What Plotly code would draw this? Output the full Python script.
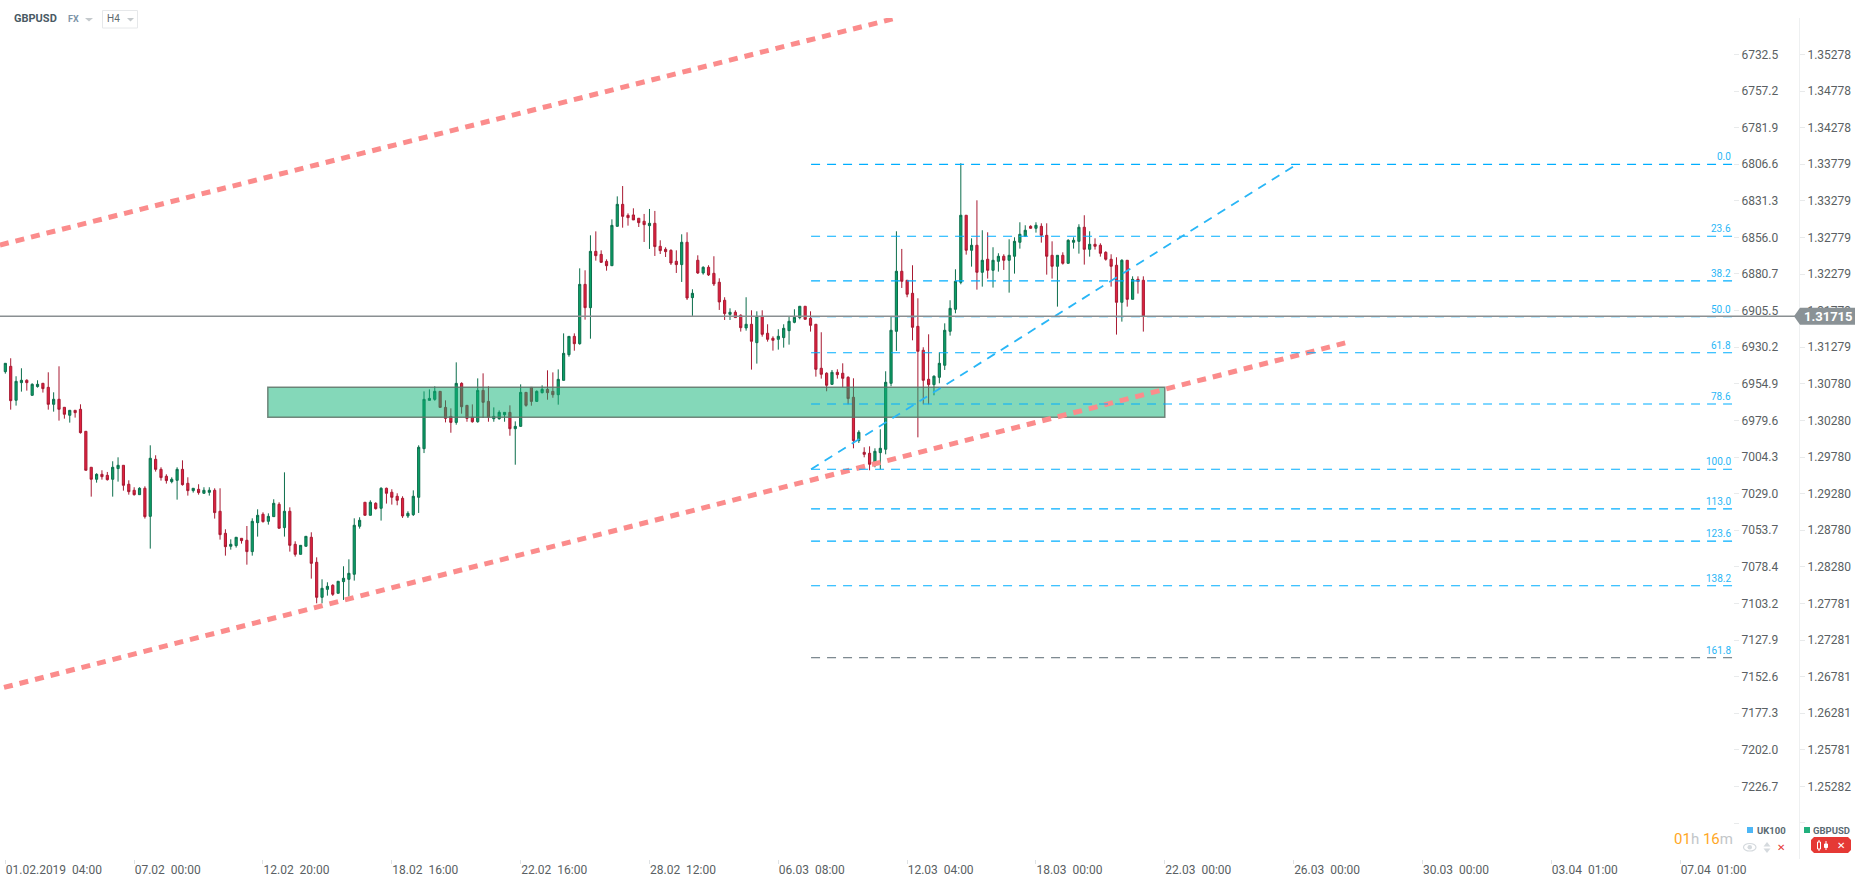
import plotly.graph_objects as go

W, H = 1866, 885

# ---------- GBPUSD H4 candles ----------
candle_dir = ("GRGGRGGRRG" "RRGRRRRGRR" "GGRRRGRGRR" "RGGRRGRGGR" "RRGGRRGGRG"
              "GRGRRGGRRG" "GRGGGGGRGR" "GRRRRGGGGG" "GRRRGRRRGR" "RGGGRGGRRG"
              "GRRGGGRGRG" "RRRGGRRRRR" "GRRRRRGRGR" "GRRRRGRRGR" "GRRRGGGGGR"
              "RRRRGRRRRG" "RRGGGGGRRR" "RRRGGGGGGR" "GRGRGGRGGG" "GRGRRRGRGG"
              "GRGRRRRRGR" "GRR")

highs = [
1.31060,1.31129,1.30883,1.30992,1.30842,1.30787,1.30828,1.30787,1.30937,1.30664,
1.31019,1.30459,1.30418,1.30418,1.30500,1.30131,1.29640,1.29558,1.29599,1.29576,
1.29722,1.29776,1.29667,1.29462,1.29367,1.29367,1.29380,1.29940,1.29804,1.29640,
1.29544,1.29503,1.29640,1.29735,1.29503,1.29353,1.29408,1.29367,1.29367,1.29353,
1.29353,1.28793,1.28656,1.28684,1.28670,1.28838,1.28943,1.29066,1.29025,1.29011,
1.29203,1.29162,1.29571,1.29093,1.28629,1.28574,1.28697,1.28752,1.28410,1.28110,
1.28069,1.28042,1.28083,1.28288,1.28383,1.28943,1.28957,1.29162,1.29189,1.29162,
1.29367,1.29362,1.29340,1.29285,1.29244,1.29039,1.29325,1.29940,1.30677,1.30704,
1.30745,1.30677,1.30554,1.30445,1.31073,1.30800,1.30486,1.30499,1.30854,1.30923,
1.30745,1.30458,1.30417,1.30390,1.30486,1.30267,1.30772,1.30663,1.30731,1.30690,
1.30759,1.30964,1.30936,1.30977,1.31469,1.31428,1.31469,1.32357,1.32330,1.32808,
1.32862,1.32603,1.32480,1.33026,1.33340,1.33481,1.33108,1.33177,1.33041,1.33100,
1.33168,1.33141,1.32740,1.32644,1.32617,1.32603,1.32822,1.32849,1.32071,1.32535,
1.32385,1.32399,1.32522,1.32221,1.31962,1.31811,1.31784,1.31729,1.31962,1.31784,
1.31770,1.31784,1.31593,1.31429,1.31525,1.31593,1.31702,1.31798,1.31839,1.31839,
1.31770,1.31593,1.31484,1.30937,1.30969,1.30978,1.31060,1.30883,1.30855,1.30145,
1.29913,1.29926,1.29899,1.30159,1.30951,1.31698,1.32863,1.32622,1.32194,1.32399,
1.31948,1.31279,1.31456,1.30896,1.31210,1.31606,1.31921,1.32344,1.33792,1.33082,
1.32767,1.33286,1.32877,1.32849,1.32645,1.32563,1.32549,1.32754,1.32781,1.32986,
1.32945,1.32945,1.32986,1.32972,1.32972,1.32726,1.32535,1.32576,1.32754,1.32781,
1.32959,1.33082,1.32863,1.32767,1.32699,1.32590,1.32549,1.32508,1.32481,1.32467,
1.32248,1.32248,1.32248]

body_tops = [
1.31060,1.31019,1.30814,1.30828,1.30828,1.30773,1.30773,1.30787,1.30732,1.30569,
1.30569,1.30459,1.30418,1.30418,1.30432,1.30131,1.29640,1.29544,1.29544,1.29530,
1.29640,1.29667,1.29667,1.29408,1.29326,1.29353,1.29353,1.29763,1.29749,1.29612,
1.29517,1.29476,1.29612,1.29612,1.29421,1.29353,1.29339,1.29326,1.29326,1.29326,
1.29039,1.28738,1.28588,1.28684,1.28670,1.28643,1.28902,1.28984,1.28998,1.28970,
1.29148,1.29134,1.29039,1.29039,1.28588,1.28574,1.28697,1.28684,1.28342,1.27987,
1.28014,1.28028,1.28083,1.28124,1.28192,1.28848,1.28916,1.29162,1.29162,1.29148,
1.29353,1.29353,1.29299,1.29244,1.29216,1.29011,1.29244,1.29913,1.30568,1.30581,
1.30677,1.30677,1.30458,1.30335,1.30786,1.30786,1.30486,1.30322,1.30690,1.30690,
1.30540,1.30335,1.30390,1.30390,1.30390,1.30199,1.30663,1.30663,1.30731,1.30677,
1.30704,1.30704,1.30677,1.30841,1.31196,1.31428,1.31428,1.32138,1.32138,1.32589,
1.32589,1.32548,1.32452,1.32944,1.33231,1.33231,1.33081,1.33086,1.33041,1.33000,
1.32972,1.32972,1.32658,1.32617,1.32603,1.32453,1.32713,1.32713,1.32016,1.32467,
1.32371,1.32371,1.32289,1.32167,1.31921,1.31757,1.31757,1.31716,1.31593,1.31593,
1.31702,1.31702,1.31470,1.31402,1.31429,1.31538,1.31634,1.31688,1.31839,1.31839,
1.31675,1.31593,1.30992,1.30924,1.30937,1.30937,1.30924,1.30869,1.30596,1.30118,
1.29844,1.29831,1.29858,1.29899,1.30801,1.31511,1.32317,1.32317,1.32194,1.32016,
1.31565,1.31238,1.30842,1.30883,1.31060,1.31511,1.31811,1.32180,1.33082,1.33082,
1.32672,1.32672,1.32467,1.32481,1.32467,1.32522,1.32522,1.32535,1.32726,1.32822,
1.32877,1.32931,1.32945,1.32931,1.32808,1.32535,1.32535,1.32535,1.32740,1.32740,
1.32918,1.32918,1.32685,1.32685,1.32672,1.32576,1.32481,1.32399,1.32467,1.32467,
1.32207,1.32207,1.32194]

body_bottoms = [
1.30946,1.30550,1.30555,1.30796,1.30796,1.30623,1.30742,1.30714,1.30500,1.30500,
1.30432,1.30364,1.30350,1.30386,1.30113,1.29599,1.29476,1.29476,1.29512,1.29471,
1.29476,1.29622,1.29394,1.29307,1.29266,1.29266,1.28966,1.28970,1.29612,1.29499,
1.29458,1.29444,1.29462,1.29403,1.29321,1.29321,1.29294,1.29285,1.29298,1.29021,
1.28720,1.28556,1.28561,1.28570,1.28638,1.28488,1.28488,1.28884,1.28898,1.28902,
1.28966,1.28807,1.28816,1.28574,1.28451,1.28451,1.28561,1.28328,1.27864,1.27864,
1.27973,1.27905,1.27919,1.28078,1.28110,1.28179,1.28834,1.28984,1.28984,1.29075,
1.29080,1.29285,1.29230,1.29189,1.28975,1.28975,1.28993,1.29230,1.29894,1.30554,
1.30568,1.30458,1.30308,1.30253,1.30253,1.30467,1.30308,1.30262,1.30262,1.30527,
1.30322,1.30303,1.30303,1.30358,1.30167,1.30167,1.30199,1.30486,1.30540,1.30540,
1.30659,1.30659,1.30631,1.30631,1.30827,1.31178,1.31328,1.31328,1.31820,1.31820,
1.32530,1.32439,1.32393,1.32393,1.32931,1.33067,1.33049,1.33018,1.32981,1.32954,
1.32940,1.32654,1.32599,1.32585,1.32430,1.32408,1.32408,1.31952,1.31957,1.32294,
1.32294,1.32267,1.32144,1.31898,1.31739,1.31729,1.31684,1.31547,1.31543,1.31361,
1.31342,1.31456,1.31388,1.31374,1.31388,1.31411,1.31506,1.31620,1.31684,1.31661,
1.31579,1.30978,1.30910,1.30760,1.30773,1.30905,1.30855,1.30578,1.30004,1.30004,
1.29817,1.29681,1.29703,1.29840,1.29886,1.30787,1.31497,1.32180,1.32003,1.31552,
1.31224,1.30828,1.30769,1.30769,1.30869,1.31033,1.31497,1.31798,1.32166,1.32604,
1.32604,1.32303,1.32303,1.32330,1.32330,1.32453,1.32467,1.32467,1.32522,1.32713,
1.32795,1.32904,1.32904,1.32808,1.32522,1.32385,1.32385,1.32426,1.32426,1.32713,
1.32726,1.32617,1.32617,1.32658,1.32563,1.32481,1.32385,1.31893,1.31893,1.31934,
1.31934,1.32180,1.31702]

lows = [
1.30919,1.30427,1.30482,1.30673,1.30687,1.30619,1.30728,1.30660,1.30427,1.30400,
1.30277,1.30304,1.30250,1.30318,1.30100,1.29599,1.29239,1.29430,1.29471,1.29458,
1.29239,1.29444,1.29321,1.29266,1.29253,1.29266,1.28939,1.28529,1.29581,1.29458,
1.29417,1.29421,1.29198,1.29389,1.29253,1.29294,1.29266,1.29280,1.29253,1.28939,
1.28652,1.28433,1.28515,1.28543,1.28597,1.28310,1.28433,1.28693,1.28884,1.28857,
1.28966,1.28807,1.28693,1.28488,1.28420,1.28451,1.28561,1.28119,1.27782,1.27782,
1.27887,1.27883,1.27919,1.27828,1.27873,1.28092,1.28802,1.28984,1.28984,1.29062,
1.28912,1.29144,1.29130,1.29121,1.28948,1.28948,1.28975,1.29016,1.29834,1.30554,
1.30549,1.30458,1.30253,1.30112,1.30222,1.30372,1.30262,1.30249,1.30249,1.30313,
1.30262,1.30262,1.30290,1.30262,1.30071,1.29675,1.30194,1.30467,1.30481,1.30540,
1.30649,1.30563,1.30590,1.30495,1.30827,1.31150,1.31232,1.31314,1.31656,1.31396,
1.32462,1.32434,1.32325,1.32393,1.32926,1.32912,1.32940,1.33018,1.32922,1.32717,
1.32622,1.32526,1.32553,1.32512,1.32403,1.32294,1.32171,1.31925,1.31707,1.32280,
1.32271,1.32253,1.32116,1.31789,1.31652,1.31652,1.31684,1.31493,1.31506,1.30974,
1.31056,1.31424,1.31356,1.31233,1.31247,1.31274,1.31315,1.31607,1.31661,1.31661,
1.31493,1.30878,1.30851,1.30678,1.30764,1.30851,1.30732,1.30500,1.29899,1.29972,
1.29776,1.29599,1.29640,1.29612,1.29817,1.30746,1.31229,1.32089,1.31962,1.31374,
1.30049,1.30500,1.30500,1.30623,1.30787,1.30969,1.31438,1.31743,1.32139,1.32544,
1.32380,1.32066,1.32107,1.32217,1.32094,1.32312,1.32335,1.32025,1.32285,1.32626,
1.32795,1.32900,1.32845,1.32708,1.32271,1.32217,1.31834,1.32408,1.32421,1.32626,
1.32558,1.32408,1.32517,1.32613,1.32517,1.32462,1.32107,1.31452,1.31629,1.31834,
1.31934,1.32012,1.31493]

# ---------- axis labels ----------
gbp_ticks = ["1.35278","1.34778","1.34278","1.33779","1.33279","1.32779","1.32279",
             "1.31779","1.31279","1.30780","1.30280","1.29780","1.29280","1.28780",
             "1.28280","1.27781","1.27281","1.26781","1.26281","1.25781","1.25282"]
uk100_ticks = ["6732.5","6757.2","6781.9","6806.6","6831.3","6856.0","6880.7",
               "6905.5","6930.2","6954.9","6979.6","7004.3","7029.0","7053.7",
               "7078.4","7103.2","7127.9","7152.6","7177.3","7202.0","7226.7"]
date_labels = ["01.02.2019\u00a0\u00a004:00","07.02\u00a0\u00a000:00","12.02\u00a0\u00a020:00",
               "18.02\u00a0\u00a016:00","22.02\u00a0\u00a016:00","28.02\u00a0\u00a012:00",
               "06.03\u00a0\u00a008:00","12.03\u00a0\u00a004:00","18.03\u00a0\u00a000:00",
               "22.03\u00a0\u00a000:00","26.03\u00a0\u00a000:00","30.03\u00a0\u00a000:00",
               "03.04\u00a0\u00a001:00","07.04\u00a0\u00a001:00"]
date_tick_step = 24

# ---------- drawing tools, in price / candle index ----------
fib_levels = [0.0, 23.6, 38.2, 50.0, 61.8, 78.6, 100.0, 113.0, 123.6, 138.2, 161.8]
fib_price_0 = 1.33778
fib_price_100 = 1.29613
fib_start_bar = 150.1
fib_end_bar = 321.7
fib_diag_end_bar = 240.6
zone_bars = (48.9, 216.0)
zone_prices = (1.30323, 1.30733)
channel_top = ((-1.0, 1.32676), (165.3, 1.35763))
channel_bottom = ((-0.25, 1.26633), (249.6, 1.31338))
last_price_label = "1.31715"
y_range = (1.24290, 1.35776)
uk100_range = (7275.7, 6707.9)
x_range = (-0.993, 321.85)

# ---------- styles ----------
RED_FILL, RED_EDGE = "#e0213f", "#a81a32"
GRN_FILL, GRN_EDGE = "#0aa067", "#0c6e4c"
FIB = "#00aeff"
TXT = "#5a5f63"
px = lambda x: x / W
py = lambda y: 1 - y / H


def poly(points, fill, line=None, lw=0):
    path = "M" + " L".join(f"{px(a):.5f},{py(b):.5f}" for a, b in points) + " Z"
    return dict(type="path", xref="paper", yref="paper", path=path, fillcolor=fill,
                line=dict(color=line or fill, width=lw), layer="above")


def label(x, y, text, size=12, color=TXT, anchor="left", bold=False, family="Roboto"):
    return dict(xref="paper", yref="paper", x=px(x), y=py(y), text=f"<b>{text}</b>" if bold else text,
                showarrow=False, xanchor=anchor, yanchor="middle",
                font=dict(family=family, size=size, color=color), borderpad=0, borderwidth=0)


opens = [b if d == "G" else t for d, t, b in zip(candle_dir, body_tops, body_bottoms)]
closes = [t if d == "G" else b for d, t, b in zip(candle_dir, body_tops, body_bottoms)]
bars = list(range(len(highs)))

fig = go.Figure()
fig.add_trace(go.Candlestick(
    x=bars, open=opens, high=highs, low=lows, close=closes, name="GBPUSD",
    whiskerwidth=0, showlegend=False, hoverinfo="skip",
    increasing=dict(fillcolor=GRN_FILL, line=dict(color=GRN_EDGE, width=1)),
    decreasing=dict(fillcolor=RED_FILL, line=dict(color=RED_EDGE, width=1)),
))
fig.add_trace(go.Scatter(x=[None], y=[None], yaxis="y2", name="UK100", showlegend=False, hoverinfo="skip"))

shapes = []
# supply / demand zone drawn over the candles
shapes.append(dict(type="rect", xref="x", yref="y", x0=zone_bars[0], x1=zone_bars[1],
                   y0=zone_prices[0], y1=zone_prices[1], layer="above",
                   fillcolor="rgba(9,178,115,0.5)", line=dict(color="rgba(95,115,105,0.85)", width=1.5)))
# channel
for (a, b) in (channel_top, channel_bottom):
    shapes.append(dict(type="line", xref="x", yref="y", x0=a[0], y0=a[1], x1=b[0], y1=b[1], layer="above",
                       line=dict(color="#fb8c8c", width=5, dash="9px,7px")))
# fibonacci levels
annotations = []
for lv in fib_levels:
    p = fib_price_0 + (fib_price_100 - fib_price_0) * lv / 100
    col = "#5a6a72" if lv == 161.8 else FIB
    shapes.append(dict(type="line", xref="x", yref="y", x0=fib_start_bar, x1=fib_end_bar, y0=p, y1=p,
                       layer="above", line=dict(color=col, width=1 if lv == 161.8 else 1.2, dash="9px,7px")))
    annotations.append(dict(xref="x", yref="y", x=fib_end_bar, y=p, text=f"{lv:.1f}", showarrow=False,
                            xanchor="right", yanchor="bottom", yshift=1, borderpad=0,
                            font=dict(family="Roboto", size=10, color="#29b6f6")))
# fibonacci diagonal
shapes.append(dict(type="line", xref="x", yref="y", x0=fib_start_bar, y0=fib_price_100,
                   x1=fib_diag_end_bar, y1=fib_price_0, layer="above",
                   line=dict(color="#29b6f6", width=1.8, dash="9px,7px")))
# last price line
shapes.append(dict(type="line", xref="paper", yref="y", x0=0, x1=px(1795), y0=closes[-1], y1=closes[-1],
                   layer="above", line=dict(color="#8a8f92", width=1.5)))

# last price flag
flag_y = 316.2
shapes.append(poly([(1794, flag_y), (1800, flag_y - 8.5), (1855, flag_y - 8.5), (1855, flag_y + 8.5), (1800, flag_y + 8.5)],
                   "#8a9296"))
annotations.append(label(1828, flag_y, last_price_label, size=13, color="#ffffff", anchor="center", bold=True))

# header
annotations += [
    label(14, 19, "GBPUSD", size=11, color="#4a5a64", bold=True),
    label(68, 19, "FX", size=9, color="#7d95a8", bold=True),
    label(107, 19, "H4", size=10, color="#5f6a70"),
]
shapes += [
    poly([(85, 18), (93, 18), (89, 21.5)], "#c4c9cc"),
    poly([(127, 18), (134, 18), (130.5, 21.5)], "#c4c9cc"),
    dict(type="rect", xref="paper", yref="paper", x0=px(102.5), x1=px(137.5), y0=py(28), y1=py(10.5),
         line=dict(color="#e6e8ea", width=1), fillcolor="rgba(0,0,0,0)", layer="above"),
]

# bottom-right legend
shapes += [
    dict(type="rect", xref="paper", yref="paper", x0=px(1747), x1=px(1753), y0=py(833), y1=py(827),
         fillcolor="#4db6f5", line=dict(width=0)),
    dict(type="rect", xref="paper", yref="paper", x0=px(1804), x1=px(1810), y0=py(833), y1=py(827),
         fillcolor="#22b07d", line=dict(width=0)),
    poly([(1814, 837), (1848, 837), (1851, 840), (1851, 850), (1848, 853), (1814, 853), (1811, 850), (1811, 840)],
         "#e53935"),
    # eye
    dict(type="circle", xref="paper", yref="paper", x0=px(1743.5), x1=px(1756), y0=py(851), y1=py(843.5),
         fillcolor="rgba(0,0,0,0)", line=dict(color="#d5dade", width=1.2)),
    dict(type="circle", xref="paper", yref="paper", x0=px(1747.5), x1=px(1752), y0=py(849.5), y1=py(845),
         fillcolor="#d5dade", line=dict(width=0)),
    # up / down arrows
    poly([(1763.5, 846.5), (1770.5, 846.5), (1767, 842)], "#d5dade"),
    poly([(1763.5, 848.5), (1770.5, 848.5), (1767, 853)], "#d5dade"),
    # candle icon in the red button
    dict(type="line", xref="paper", yref="paper", x0=px(1819), x1=px(1819), y0=py(840), y1=py(851),
         line=dict(color="#ffffff", width=1)),
    dict(type="rect", xref="paper", yref="paper", x0=px(1817.5), x1=px(1820.5), y0=py(849), y1=py(842),
         fillcolor="#e53935", line=dict(color="#ffffff", width=1)),
    dict(type="line", xref="paper", yref="paper", x0=px(1826), x1=px(1826), y0=py(841), y1=py(850),
         line=dict(color="#ffffff", width=1)),
    dict(type="rect", xref="paper", yref="paper", x0=px(1824.5), x1=px(1827.5), y0=py(847.5), y1=py(844),
         fillcolor="#ffffff", line=dict(color="#ffffff", width=1)),
]
annotations += [
    label(1757, 830, "UK100", size=9.5, color="#5a6a72", bold=True),
    label(1813, 830, "GBPUSD", size=9.5, color="#5a6a72", bold=True),
    label(1780.5, 847, "\u2715", size=10, color="#e53935", anchor="center", family="DejaVu Sans"),
    label(1841, 845, "\u2715", size=10, color="#ffffff", anchor="center", family="DejaVu Sans"),
    label(1733, 839,
          '<span style="color:#ffa726">01</span><span style="color:#c2c6c9">h</span> '
          '<span style="color:#ffa726">16</span><span style="color:#c2c6c9">m</span>',
          size=15, anchor="right"),
]

# tick positions: both price scales share the same rows, plus the unlabelled row under the legend
gbp_vals = [float(t) for t in gbp_ticks] + [1.24782]
uk_vals = [float(t) for t in uk100_ticks] + [7251.4]

fig.update_layout(
    width=W, height=H, autosize=False, paper_bgcolor="#ffffff", plot_bgcolor="#ffffff",
    margin=dict(l=0, r=0, t=0, b=0, pad=0), showlegend=False, boxgap=0.42,
    font=dict(family="Roboto", size=12, color=TXT),
    shapes=shapes, annotations=annotations,
    xaxis=dict(domain=[0, px(1733)], range=list(x_range), rangeslider=dict(visible=False),
               showgrid=False, zeroline=False, showline=False, ticks="outside", ticklen=4,
               tickcolor="#dfe2e4", tickmode="array", ticklabelposition="outside right",
               tickvals=[i * date_tick_step for i in range(len(date_labels))], ticktext=date_labels,
               tickfont=dict(family="Roboto", size=12, color=TXT), automargin=False),
    yaxis=dict(domain=[py(859), py(18)], range=list(y_range), anchor="free", position=px(1799), side="right",
               showgrid=False, zeroline=False, showline=True, linecolor="#eef0f1", linewidth=1,
               ticks="outside", ticklen=5, tickcolor="#e8eaeb", tickmode="array",
               tickvals=gbp_vals, ticktext=gbp_ticks + [""],
               tickfont=dict(family="Roboto", size=12, color=TXT), automargin=False),
    yaxis2=dict(domain=[py(859), py(18)], range=list(uk100_range), overlaying="y", anchor="free",
                position=px(1733), side="right", showgrid=False, zeroline=False, showline=False,
                ticks="outside", ticklen=5, tickcolor="#e8eaeb", tickmode="array",
                tickvals=uk_vals, ticktext=uk100_ticks + [""],
                tickfont=dict(family="Roboto", size=12, color=TXT), automargin=False),
)
# the page's default body margin would push the figure 8px right and down
fig.write_html("out.html", config={"displayModeBar": False},
               post_script="document.body.style.margin='0';document.documentElement.style.overflow='hidden';")
